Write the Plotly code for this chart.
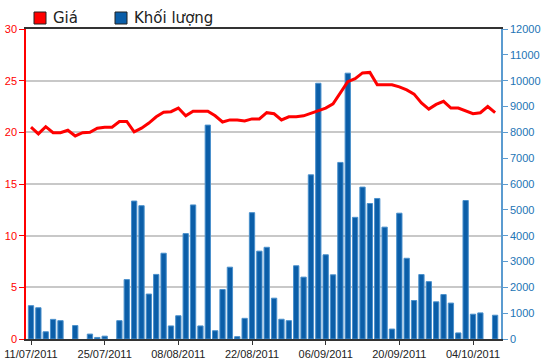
import pandas as pd
import plotly.graph_objects as go

# Trading days (Vietnam, 02/09 National Day holiday)
days = pd.bdate_range("2011-07-11", "2011-10-07")
days = [d for d in days if d.strftime("%d/%m") != "02/09"]
dates = [d.strftime("%d/%m/%Y") for d in days]

tick_labels = ["11/07/2011", "25/07/2011", "08/08/2011", "22/08/2011",
               "06/09/2011", "20/09/2011", "04/10/2011"]

price = [20.5, 19.85, 20.55, 19.97, 19.97, 20.2, 19.65, 19.97, 20.0, 20.4,
         20.5, 20.5, 21.05, 21.05, 20.05, 20.4, 20.9, 21.5, 21.95, 22.0,
         22.35, 21.6, 22.05, 22.05, 22.05, 21.6, 21.0, 21.2, 21.2, 21.1,
         21.3, 21.3, 21.9, 21.8, 21.2, 21.5, 21.5, 21.6, 21.85, 22.05,
         22.35, 22.75, 23.8, 24.9, 25.2, 25.75, 25.8, 24.6, 24.6, 24.6,
         24.4, 24.1, 23.7, 22.85, 22.25, 22.7, 23.0, 22.35, 22.35, 22.1,
         21.8, 21.9, 22.5, 21.9]

volume = [1290, 1210, 280, 760, 710, None, 520, None, 190, 60,
          110, None, 710, 2300, 5340, 5160, 1740, 2500, 3320, 505,
          900, 4080, 5190, 505, 8280, 320, 1915, 2780, 90, 800,
          4890, 3400, 3550, 1580, 765, 710, 2835, 2395, 6355, 9900,
          3260, 2485, 6835, 10290, 4710, 5880, 5245, 5440, 4330, 385,
          4870, 3125, 1490, 2495, 2220, 1440, 1720, 1390, 235, 5360,
          960, 1010, None, 920]

series_names = ["Giá", "Khối lượng"]
series_colors = ["#ff0000", "#0b5ea8"]

fig = go.Figure()
fig.add_trace(go.Bar(x=dates, y=volume, name=series_names[1], yaxis="y",
                     marker=dict(color=series_colors[1],
                                 line=dict(color="#4a90cc", width=1)),
                     showlegend=False))
fig.add_trace(go.Scatter(x=dates, y=price, name=series_names[0], yaxis="y2",
                         mode="lines", line=dict(color=series_colors[0], width=3),
                         showlegend=False))

L, R, T, B = 26, 501, 29, 339
W, H = R - L, B - T

def px(x):
    return (x - L) / W

def py(y):
    return (B - y) / H

shapes = []
annotations = []
legend_pos = [(34, 51), (115, 132)]
for name, color, (sx, tx) in zip(series_names, series_colors, legend_pos):
    shapes.append(dict(type="rect", xref="paper", yref="paper",
                       x0=px(sx), x1=px(sx + 12), y0=py(24), y1=py(12),
                       fillcolor=color, line=dict(color="#222222", width=1)))
    annotations.append(dict(text=name, xref="paper", yref="paper",
                            x=px(tx), y=py(18.5), xanchor="left", yanchor="middle",
                            showarrow=False,
                            font=dict(family="DejaVu Sans", size=15, color="#222222")))

fig.update_layout(
    width=550, height=364,
    margin=dict(l=L, r=550 - R, t=T, b=364 - B),
    paper_bgcolor="white", plot_bgcolor="white",
    bargap=0.28,
    showlegend=False,
    font=dict(family="Liberation Sans", size=11),
    xaxis=dict(type="category", range=[-0.68, 63.8],
               tickmode="array", tickvals=tick_labels, ticktext=tick_labels,
               ticks="outside", ticklen=4, tickcolor="#333333",
               showline=True, linecolor="#333333", linewidth=1.5, mirror=True,
               showgrid=False, tickangle=0,
               tickfont=dict(color="#222222", size=11), automargin=False),
    yaxis=dict(side="right", range=[0, 12000], dtick=1000, tickformat="d",
               showgrid=False, zeroline=False,
               showline=True, linecolor="#5b9bd0", linewidth=1.5,
               ticks="outside", ticklen=5, tickcolor="#5b9bd0",
               tickfont=dict(color="#2274b5", size=11), automargin=False),
    yaxis2=dict(side="left", overlaying="y", range=[0, 30], dtick=5,
                showgrid=True, gridcolor="#c8c8c8", gridwidth=1.5,
                zeroline=False,
                showline=True, linecolor="#ff0000", linewidth=1.5,
                ticks="outside", ticklen=5, tickcolor="#ff0000",
                tickfont=dict(color="#ff0000", size=11), automargin=False),
    shapes=shapes,
    annotations=annotations,
)

fig.write_html("out.html",
               config={"displayModeBar": False},
               post_script="document.body.style.margin='0';document.body.style.overflow='hidden';")
